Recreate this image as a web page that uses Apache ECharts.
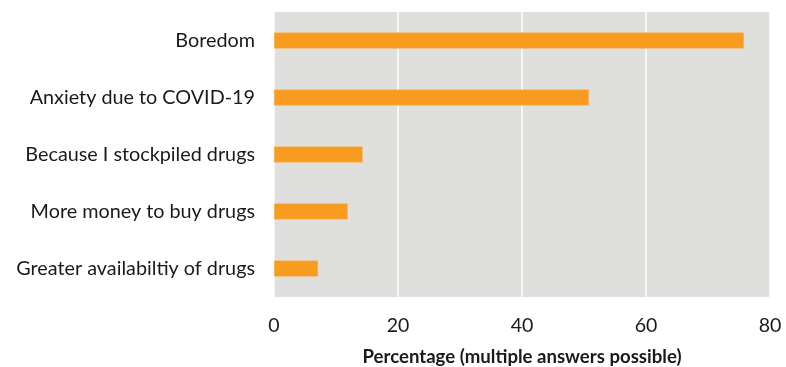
<!DOCTYPE html>
<html>
<head>
<meta charset="utf-8">
<script src="https://cdn.jsdelivr.net/npm/echarts@6/dist/echarts.min.js"></script>
<style>
  html, body { margin: 0; padding: 0; background: #ffffff; }
  #chart { width: 786px; height: 367px; }
</style>
</head>
<body>
<div id="chart"></div>
<script>
// Reasons for increased drug use, listed top to bottom
const reasons = [
  'Boredom',
  'Anxiety due to COVID-19',
  'Because I stockpiled drugs',
  'More money to buy drugs',
  'Greater availabiltiy of drugs'
];
// Share of respondents giving each reason (%)
const percentages = [75.8, 50.8, 14.3, 11.9, 7.1];
const xTicks = [0, 20, 40, 60, 80];

const labelFont = 'Lato, "Open Sans", sans-serif';
const chart = echarts.init(document.getElementById('chart'), null, { renderer: 'canvas' });

chart.setOption({
  animation: false,
  grid: {
    left: 274, right: 16, top: 12, bottom: 70,
    outerBoundsMode: 'none',
    containLabel: false,
    show: true, backgroundColor: '#dfe0de', borderWidth: 0
  },
  xAxis: {
    type: 'value',
    min: xTicks[0],
    max: xTicks[xTicks.length - 1],
    interval: xTicks[1] - xTicks[0],
    name: 'Percentage (multiple answers possible)',
    nameLocation: 'middle',
    nameGap: 50,
    nameTextStyle: { fontFamily: labelFont, fontWeight: 'bold', fontSize: 18.6, color: '#1a1a1a' },
    axisLine: { show: false },
    axisTick: { show: false },
    axisLabel: { fontFamily: labelFont, fontSize: 19.5, color: '#1a1a1a', margin: 19 },
    splitLine: { show: true, lineStyle: { color: '#ffffff', width: 1.5 } }
  },
  yAxis: {
    type: 'category',
    data: reasons,
    inverse: true,
    axisLine: { show: false },
    axisTick: { show: false },
    axisLabel: { fontFamily: labelFont, fontSize: 19.8, color: '#1a1a1a', margin: 19 }
  },
  series: [{
    type: 'bar',
    data: percentages,
    barWidth: 16,
    itemStyle: { color: '#f79c1f', borderColor: '#f6b45a', borderWidth: 0.6 }
  }]
});
</script>
</body>
</html>
